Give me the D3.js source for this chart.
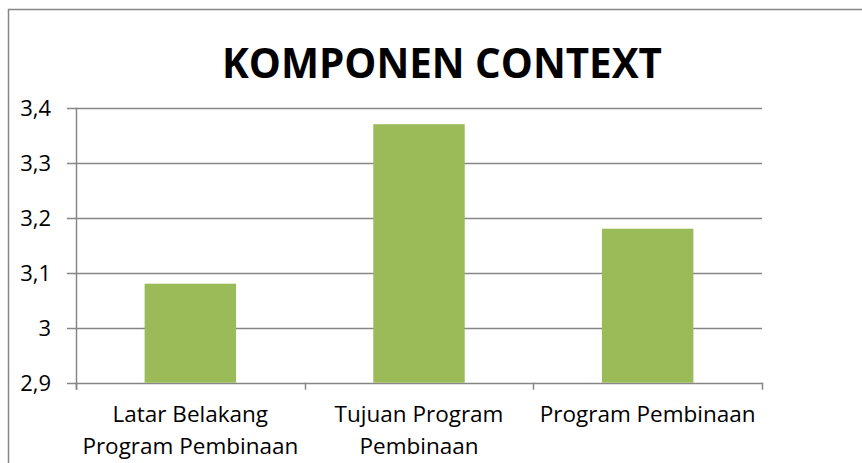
<!DOCTYPE html>
<html>
<head>
<meta charset="utf-8">
<script src="https://cdn.jsdelivr.net/npm/d3@7"></script>
<style>
  body { margin: 0; background: #fff; }
  svg { display: block; font-family: "Open Sans", sans-serif; }
</style>
</head>
<body>
<svg width="862" height="463"></svg>
<script>
// chart data
var categories = ["Latar Belakang Program Pembinaan", "Tujuan Program Pembinaan", "Program Pembinaan"];
var labelLines = [["Latar Belakang", "Program Pembinaan"], ["Tujuan Program", "Pembinaan"], ["Program Pembinaan"]];
var values = [3.08, 3.37, 3.18];
var yTicks = [2.9, 3.0, 3.1, 3.2, 3.3, 3.4];
var title = "KOMPONEN CONTEXT";

var svg = d3.select("svg"),
    width = +svg.attr("width"),
    height = +svg.attr("height");

var margin = {left: 76, right: 100, top: 107.7, bottom: 80.3};

// outer chart frame (cut off at right/bottom like the original)
svg.append("rect")
    .attr("x", 8.5)
    .attr("y", 9.5)
    .attr("width", 900)
    .attr("height", 500)
    .style("fill", "none")
    .style("stroke", "#868686")
    .style("stroke-width", 1.5);

svg.append("text")
    .attr("x", 442)
    .attr("y", 78)
    .attr("text-anchor", "middle")
    .style("font-size", "42px")
    .style("font-weight", "bold")
    .attr("textLength", 440)
    .attr("lengthAdjust", "spacingAndGlyphs")
    .text(title);

var x = d3.scaleBand()
    .domain(categories)
    .range([margin.left, width - margin.right])
    .paddingInner(0.6)
    .paddingOuter(0.3);

var y = d3.scaleLinear()
    .domain([2.9, 3.4])
    .range([height - margin.bottom, margin.top]);

var fmt = function(d) { return d3.format(".1~f")(d).replace(".", ","); };

// gridlines
svg.append("g")
    .selectAll("line")
    .data(yTicks)
    .enter().append("line")
    .attr("x1", margin.left - 9)
    .attr("x2", width - margin.right)
    .attr("y1", function(d) { return Math.round(y(d)) + 0.5; })
    .attr("y2", function(d) { return Math.round(y(d)) + 0.5; })
    .style("stroke", "#868686")
    .style("stroke-width", 1.5);

// y axis labels
svg.append("g")
    .selectAll("text")
    .data(yTicks)
    .enter().append("text")
    .attr("x", 51)
    .attr("y", function(d) { return y(d) + 8; })
    .attr("text-anchor", "end")
    .style("font-size", "22px")
    .text(fmt);

// y axis line
svg.append("line")
    .attr("x1", margin.left + 0.5)
    .attr("x2", margin.left + 0.5)
    .attr("y1", y(3.4))
    .attr("y2", y(2.9) + 7)
    .style("stroke", "#868686")
    .style("stroke-width", 1.5);

// bars
svg.append("g")
    .selectAll("rect")
    .data(values)
    .enter().append("rect")
    .attr("x", function(d, i) { return x(categories[i]); })
    .attr("width", x.bandwidth())
    .attr("y", function(d) { return y(d); })
    .attr("height", function(d) { return y(2.9) - y(d); })
    .style("fill", "#9BBB59");

// x axis category ticks
var bounds = d3.range(categories.length + 1).map(function(i) { return margin.left + i * (width - margin.right - margin.left) / categories.length; });
svg.append("g")
    .selectAll("line")
    .data(bounds)
    .enter().append("line")
    .attr("x1", function(d) { return Math.round(d) + 0.5; })
    .attr("x2", function(d) { return Math.round(d) + 0.5; })
    .attr("y1", y(2.9))
    .attr("y2", y(2.9) + 7)
    .style("stroke", "#868686")
    .style("stroke-width", 1.5);

// category labels
var lab = svg.append("g")
    .selectAll("text")
    .data(categories)
    .enter().append("text")
    .attr("x", function(d) { return x(d) + x.bandwidth() / 2; })
    .attr("y", 422)
    .attr("text-anchor", "middle")
    .style("font-size", "22.5px");

lab.selectAll("tspan")
    .data(function(d, i) { return labelLines[i]; })
    .enter().append("tspan")
    .attr("x", function() { return d3.select(this.parentNode).attr("x"); })
    .attr("dy", function(d, i) { return i ? 32 : 0; })
    .text(function(d) { return d; });
</script>
</body>
</html>
